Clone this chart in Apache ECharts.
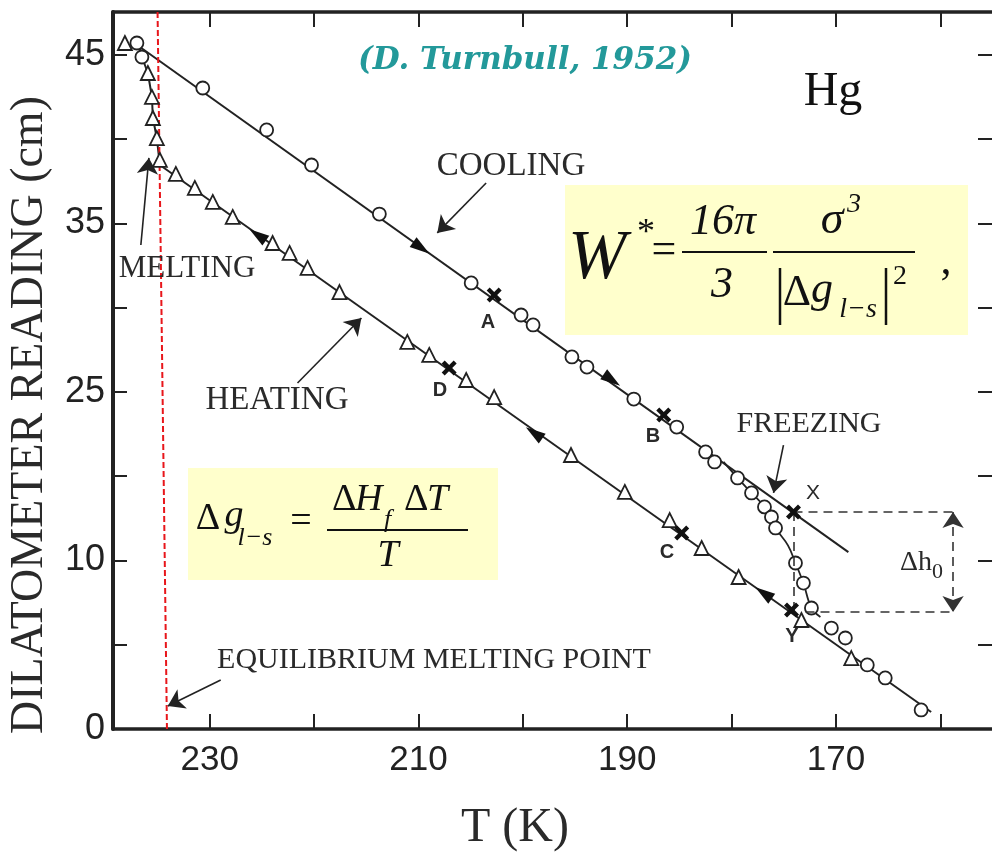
<!DOCTYPE html>
<html>
<head>
<meta charset="utf-8">
<title>Hg dilatometer</title>
<script src="https://cdn.jsdelivr.net/npm/echarts@6/dist/echarts.min.js"></script>
<style>
  html, body { margin: 0; padding: 0; background: #fff; }
  #chart { width: 992px; height: 852px; }
</style>
</head>
<body>
<div id="chart"></div>
<script>
// axis ticks and labels
var xTickValues = [160, 170, 180, 190, 200, 210, 220, 230];
var xLabelValues = [170, 190, 210, 230];
var yTickValues = [0, 5, 10, 15, 20, 25, 30, 35, 40];
var yLabelValues = [0, 10, 20, 30, 40];
var yLabelText = ['0', '10', '25', '35', '45'];

// [T (K), reading]
var coolingPts = [
  [236.98, 40.71], [236.50, 39.88], [230.67, 38.04], [224.55, 35.55], [220.25, 33.47],
  [213.75, 30.56], [204.95, 26.47], [200.17, 24.57], [199.02, 23.98], [195.30, 22.08],
  [193.86, 21.48], [189.37, 19.58], [185.26, 17.92], [182.49, 16.44], [181.63, 15.85],
  [179.43, 14.90], [178.09, 14.01], [176.85, 13.18], [176.18, 12.58], [175.79, 11.93],
  [173.88, 9.85], [173.12, 8.66], [172.35, 7.18], [170.44, 5.99], [169.10, 5.40],
  [167.00, 3.80], [165.28, 3.03], [161.84, 1.13]
];
var heatingPts = [
  [238.13, 40.71], [235.93, 38.93], [235.54, 37.51], [235.45, 36.26], [235.07, 35.07],
  [234.78, 33.77], [233.25, 32.94], [231.43, 32.11], [229.71, 31.28], [227.80, 30.39],
  [223.98, 28.84], [222.35, 28.25], [220.63, 27.36], [217.57, 25.93], [211.07, 22.97],
  [208.97, 22.20], [205.43, 20.71], [202.75, 19.70], [195.39, 16.26], [190.23, 14.07],
  [185.93, 12.40], [182.87, 10.74], [179.33, 9.02], [173.31, 6.47], [168.53, 4.21]
];
var crossPts = [
  [202.75, 25.76], [186.50, 18.63], [174.07, 12.88],
  [207.06, 21.42], [184.78, 11.63], [174.26, 7.06]
];
var coolingLine = [[236.69, 40.47], [168.81, 10.50]];
var heatingLine = [[234.78, 33.47], [160.88, 1.01]];
var meltingLine = [[234.78, 33.47], [235.07, 35.07], [235.45, 36.26], [235.54, 37.51], [235.93, 38.93], [236.50, 39.88], [236.69, 40.47]];
var freezingLine = [[180.77, 15.85], [179.43, 14.90], [178.09, 14.01], [176.85, 13.18], [175.79, 11.93], [174.6, 10.9], [173.88, 9.85], [173.12, 8.66], [172.35, 7.18], [171.49, 6.65]];
var equilibriumLine = [[235.0, 42.55], [234.1, 0]];
// direction arrows on the curves: [T, reading, rotation]
var coolArrows = [[209.73, 28.55, -125], [191.47, 20.71, -125]];
var heatArrows = [[225.41, 29.32, 55], [198.93, 17.57, 55], [176.94, 8.07, 55]];
// pointer arrows [from, to]
var pointerArrows = [
  [[203.52, 32.40], [208.20, 29.44]],
  [[221.59, 20.53], [215.47, 24.39]],
  [[236.60, 28.72], [235.83, 33.89]],
  [[175.03, 16.85], [175.98, 14.01]],
  [[228.95, 2.91], [234.02, 1.37]]
];
var dashedLines = [
  [[174.07, 12.88], [158.78, 12.88]],
  [[172.92, 6.94], [158.78, 6.94]],
  [[174.07, 12.88], [174.07, 6.94]]
];
var deltaH = [[158.78, 12.88], [158.78, 6.94]];

var ink = '#222';
var chart = echarts.init(document.getElementById('chart'));

function mlPair(p, sym0, sym1, style) {
  return [
    { coord: p[0], symbol: sym0 },
    { coord: p[1], symbol: sym1, lineStyle: style }
  ];
}

var markData = [];
pointerArrows.forEach(function (p, i) {
  var curv = (i === 2) ? 0.12 : (i === 3 ? -0.3 : 0);
  markData.push(mlPair(p, 'none', 'arrow', { color: ink, width: 1.6, type: 'solid', curveness: curv }));
});
dashedLines.forEach(function (p) {
  markData.push(mlPair(p, 'none', 'none', { color: '#333', width: 1.6, type: [9, 6] }));
});
markData.push(mlPair(deltaH, 'arrow', 'arrow', { color: '#333', width: 1.6, type: [9, 6] }));

var serif = '"Liberation Serif", "Times New Roman", serif';
var sans = '"Liberation Sans", Arial, sans-serif';

function txt(x, y, s, font, extra) {
  var st = Object.assign({ text: s, x: x, y: y, font: font, fill: '#2a2a2a', align: 'center', verticalAlign: 'middle' }, extra || {});
  return { type: 'text', z: 10, style: st };
}
function hline(x1, x2, y) {
  return { type: 'line', z: 10, shape: { x1: x1, y1: y, x2: x2, y2: y }, style: { stroke: '#111', lineWidth: 2 } };
}
function vline(x, y1, y2) {
  return { type: 'line', z: 10, shape: { x1: x, y1: y1, x2: x, y2: y2 }, style: { stroke: '#111', lineWidth: 2.5 } };
}

var graphics = [
  txt(525, 61, '(D. Turnbull, 1952)', 'italic bold 31px "DejaVu Serif", serif', { fill: '#23999a' }),
  txt(833, 92, 'Hg', '48px ' + serif, { fill: '#111' }),
  txt(511, 166, 'COOLING', '33px ' + serif),
  txt(187, 269, 'MELTING', '31px ' + serif),
  txt(277, 400, 'HEATING', '33px ' + serif),
  txt(809, 424, 'FREEZING', '30px ' + serif),
  txt(434, 660, 'EQUILIBRIUM MELTING POINT', '30px ' + serif),
  txt(488, 322, 'A', 'bold 20px ' + sans),
  txt(653, 436, 'B', 'bold 20px ' + sans),
  txt(667, 552, 'C', 'bold 20px ' + sans),
  txt(440, 390, 'D', 'bold 20px ' + sans),
  txt(813, 493, 'X', '21px ' + sans),
  txt(792, 636, 'Y', 'bold 20px ' + sans),
  txt(932, 563, 'Δh', '28px ' + serif, { align: 'right' }),
  txt(932, 572, '0', '22px ' + serif, { align: 'left' }),
  {
    type: 'text', z: 10, x: 30, y: 415, rotation: Math.PI / 2,
    style: { text: 'DILATOMETER READING (cm)', x: 0, y: 0, font: '46px ' + serif, fill: '#2a2a2a', align: 'center', verticalAlign: 'middle' }
  },
  txt(515, 828, 'T (K)', '48px ' + serif, { fill: '#2a2a2a' }),

  // W* box
  { type: 'rect', z: 5, shape: { x: 565, y: 185, width: 403, height: 150 }, style: { fill: '#ffffcc' } },
  txt(568, 260, 'W', 'italic 70px ' + serif, { fill: '#111', align: 'left' }),
  txt(646, 234, '*', '36px ' + serif, { fill: '#111' }),
  txt(664, 251, '=', '44px ' + serif, { fill: '#111' }),
  txt(723, 222, '16π', 'italic 44px ' + serif, { fill: '#111' }),
  hline(682, 767, 252),
  txt(722, 285, '3', 'italic 44px ' + serif, { fill: '#111' }),
  txt(832, 221, 'σ', 'italic 46px ' + serif, { fill: '#111' }),
  txt(854, 205, '3', 'italic 28px ' + serif, { fill: '#111' }),
  hline(773, 915, 252),
  vline(780, 268, 325),
  vline(886, 268, 325),
  txt(797, 293, 'Δ', '44px ' + serif, { fill: '#111' }),
  txt(822, 290, 'g', 'italic 44px ' + serif, { fill: '#111' }),
  txt(858, 310, 'l−s', 'italic 28px ' + serif, { fill: '#111' }),
  txt(900, 277, '2', '28px ' + serif, { fill: '#111' }),
  txt(946, 262, ',', '44px ' + serif, { fill: '#111' }),

  // Delta g box
  { type: 'rect', z: 5, shape: { x: 188, y: 468, width: 310, height: 112 }, style: { fill: '#ffffcc' } },
  txt(208, 519, 'Δ', '38px ' + serif, { fill: '#111' }),
  txt(234, 516, 'g', 'italic 38px ' + serif, { fill: '#111' }),
  txt(255, 538, 'l−s', 'italic 26px ' + serif, { fill: '#111' }),
  txt(301, 522, '=', '38px ' + serif, { fill: '#111' }),
  txt(332, 500, 'Δ', '38px ' + serif, { fill: '#111', align: 'left' }),
  txt(355, 500, 'H', 'italic 38px ' + serif, { fill: '#111', align: 'left' }),
  txt(384, 520, 'f', 'italic 26px ' + serif, { fill: '#111', align: 'left' }),
  txt(404, 500, 'Δ', '38px ' + serif, { fill: '#111', align: 'left' }),
  txt(427, 500, 'T', 'italic 38px ' + serif, { fill: '#111', align: 'left' }),
  hline(327, 468, 530),
  txt(388, 556, 'T', 'italic 38px ' + serif, { fill: '#111' })
];

var arrowHead = 'path://M0,0 L6,18 L-6,18 Z';
var crossPath = 'path://M0,2 L2,0 L5,3 L8,0 L10,2 L7,5 L10,8 L8,10 L5,7 L2,10 L0,8 L3,5 Z';

function arrowData(list) {
  return list.map(function (a) { return { value: [a[0], a[1]], symbolRotate: a[2] }; });
}

var xBase = {
  type: 'value', inverse: true, min: 155.05, max: 239.27,
  splitLine: { show: false },
  axisLine: { show: true, onZero: false, lineStyle: { color: ink, width: 3.5 } },
  axisTick: { show: true, inside: true, length: 15, customValues: xTickValues, lineStyle: { color: ink, width: 2 } }
};
var yBase = {
  type: 'value', min: 0, max: 42.55,
  splitLine: { show: false },
  axisLine: { show: true, onZero: false, lineStyle: { color: ink, width: 4 } },
  axisTick: { show: true, inside: true, length: 14, customValues: yTickValues, lineStyle: { color: ink, width: 2 } }
};

chart.setOption({
  animation: false,
  backgroundColor: '#fff',
  grid: { left: 113, top: 12, right: -4, bottom: 123, containLabel: false },
  xAxis: [
    Object.assign({}, xBase, {
      position: 'bottom',
      axisLabel: { customValues: xLabelValues, margin: 14, color: '#222', fontFamily: sans, fontSize: 35 }
    }),
    Object.assign({}, xBase, { position: 'top', axisLabel: { show: false } })
  ],
  yAxis: [
    Object.assign({}, yBase, {
      position: 'left',
      axisLabel: {
        customValues: yLabelValues, margin: 8, color: '#222', fontFamily: sans, fontSize: 36,
        formatter: function (v) { return yLabelText[Math.round(v / 10)]; }
      }
    }),
    Object.assign({}, yBase, { position: 'right', axisLine: { show: false }, axisLabel: { show: false } })
  ],
  graphic: graphics,
  series: [
    { type: 'line', name: 'cooling line', data: coolingLine, symbol: 'none', lineStyle: { color: ink, width: 2 }, z: 2 },
    { type: 'line', name: 'heating line', data: heatingLine, symbol: 'none', lineStyle: { color: ink, width: 2 }, z: 2 },
    { type: 'line', name: 'melting', data: meltingLine, symbol: 'none', lineStyle: { color: ink, width: 2 }, z: 2 },
    { type: 'line', name: 'freezing', data: freezingLine, symbol: 'none', smooth: 0.4, lineStyle: { color: ink, width: 1.8 }, z: 2 },
    { type: 'line', name: 'equilibrium', data: equilibriumLine, symbol: 'none', lineStyle: { color: '#e8161b', width: 2, type: [6, 3] }, z: 3 },
    {
      type: 'scatter', name: 'cooling', data: coolingPts, symbol: 'circle', symbolSize: 13,
      itemStyle: { color: '#fff', borderColor: ink, borderWidth: 1.8, opacity: 1 }, z: 4
    },
    {
      type: 'scatter', name: 'heating', data: heatingPts, symbol: 'triangle', symbolSize: 14,
      itemStyle: { color: '#fff', borderColor: ink, borderWidth: 1.8, opacity: 1 }, z: 4
    },
    { type: 'scatter', name: 'cross', data: crossPts, symbol: crossPath, symbolSize: 15, itemStyle: { color: '#111', opacity: 1 }, z: 5 },
    { type: 'scatter', name: 'cool dir', data: arrowData(coolArrows), symbol: arrowHead, symbolSize: [12, 20], itemStyle: { color: '#111', opacity: 1 }, z: 5 },
    { type: 'scatter', name: 'heat dir', data: arrowData(heatArrows), symbol: arrowHead, symbolSize: [12, 20], itemStyle: { color: '#111', opacity: 1 }, z: 5 },
    {
      type: 'line', name: 'pointers', data: [], symbol: 'none',
      markLine: { silent: true, animation: false, symbolSize: 16, label: { show: false }, data: markData }
    }
  ]
});
</script>
</body>
</html>
